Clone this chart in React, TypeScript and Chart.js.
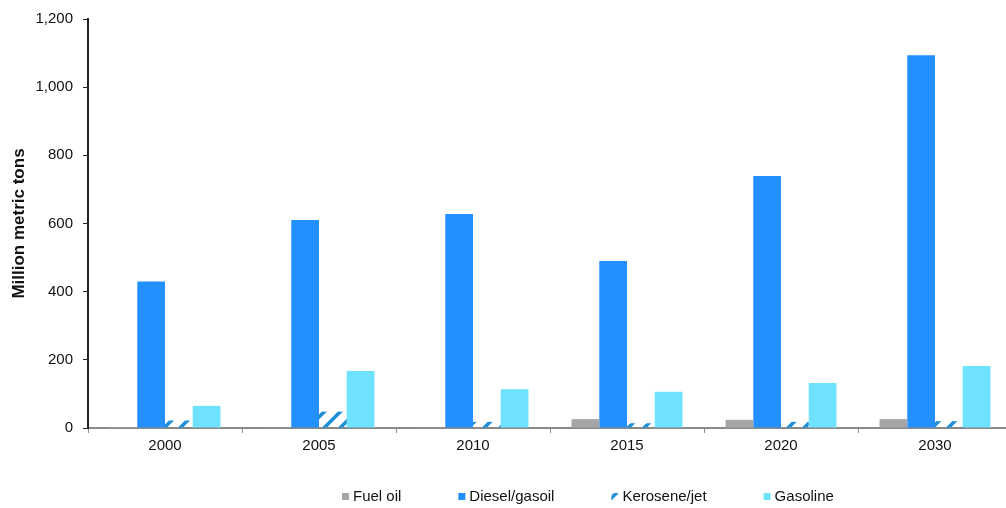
import React, { useEffect, useRef } from "react";
import { Chart, registerables } from "chart.js";

Chart.register(...registerables);

// Refined product demand, million metric tons
const years = ["2000", "2005", "2010", "2015", "2020", "2030"];
const fuelOil = [3, 1, 2, 26, 24, 26];
const diesel = [430, 610, 628, 490, 739, 1094];
const kerosene = [22, 48, 18, 14, 18, 20];
const gasoline = [65, 167, 114, 106, 132, 182];
const yTicks = [0, 200, 400, 600, 800, 1000, 1200];

const FONT = '"Liberation Sans", Arial, Helvetica, sans-serif';

// Diagonal stripe fill used for the kerosene/jet bars
function stripePattern(color: string): CanvasPattern | string {
  const c = document.createElement("canvas");
  c.width = 16;
  c.height = 16;
  const g = c.getContext("2d");
  if (!g) return color;
  g.strokeStyle = color;
  g.lineWidth = 3.5;
  const seg = (x1: number, y1: number, x2: number, y2: number) => {
    g.beginPath();
    g.moveTo(x1, y1);
    g.lineTo(x2, y2);
    g.stroke();
  };
  seg(-4, 20, 20, -4);
  seg(-4, 4, 4, -4);
  seg(12, 20, 20, 12);
  const p = g.createPattern(c, "repeat");
  return p || color;
}

// Legend drawn as a single row under the axis
const bottomLegend = {
  id: "bottomLegend",
  afterDraw(chart: any) {
    const ctx = chart.ctx as CanvasRenderingContext2D;
    ctx.save();
    ctx.font = `15px ${FONT}`;
    ctx.textBaseline = "middle";
    ctx.textAlign = "left";
    let x = 342;
    const y = 497;
    chart.data.datasets.forEach((ds: any) => {
      const bg = ds.backgroundColor;
      ctx.save();
      if (typeof bg === "string") {
        ctx.fillStyle = bg;
        ctx.fillRect(x, y - 4, 7, 7);
      } else {
        // shift the stripe tile so one stroke crosses the swatch
        ctx.translate(x - 5.5, y - 9.5);
        ctx.fillStyle = bg;
        ctx.fillRect(5.5, 5.5, 7, 7);
      }
      ctx.restore();
      ctx.fillStyle = "#111";
      ctx.fillText(ds.label, x + 11, y);
      x += 11 + ctx.measureText(ds.label).width + 57;
    });
    ctx.restore();
  },
};

export default function App() {
  const ref = useRef<HTMLCanvasElement | null>(null);

  useEffect(() => {
    if (!ref.current) return;
    const chart = new Chart(ref.current, {
      type: "bar",
      data: {
        labels: years,
        datasets: [
          { label: "Fuel oil", data: fuelOil, backgroundColor: "#a6a6a6" },
          { label: "Diesel/gasoil", data: diesel, backgroundColor: "#2390ff" },
          { label: "Kerosene/jet", data: kerosene, backgroundColor: stripePattern("#1a8fd6") as any },
          { label: "Gasoline", data: gasoline, backgroundColor: "#6ee2ff" },
        ],
      },
      options: {
        responsive: false,
        animation: false,
        devicePixelRatio: 1,
        layout: { padding: { top: 19, right: 8, left: 0, bottom: 0 } },
        datasets: { bar: { categoryPercentage: 0.72, barPercentage: 1.0 } },
        plugins: {
          legend: { display: false },
          tooltip: { enabled: false },
        },
        scales: {
          x: {
            grid: {
              display: true,
              drawOnChartArea: false,
              drawTicks: true,
              tickLength: 5,
              color: "#8a8a8a",
              offset: true,
            },
            border: { display: true, color: "#8a8a8a", width: 2 },
            ticks: { color: "#111", font: { size: 15, family: FONT }, padding: 4 },
            afterFit: (s: any) => {
              s.height = 80;
            },
          },
          y: {
            min: 0,
            max: 1200,
            afterBuildTicks: (s: any) => {
              s.ticks = yTicks.map((v) => ({ value: v }));
            },
            ticks: {
              color: "#111",
              font: { size: 15, family: FONT },
              padding: 10,
              callback: (v: any) => Number(v).toLocaleString("en-US"),
            },
            grid: {
              display: true,
              drawOnChartArea: false,
              drawTicks: true,
              tickLength: 5,
              color: "#222",
            },
            border: { display: true, color: "#222", width: 2 },
            title: {
              display: true,
              text: "Million metric tons",
              color: "#111",
              font: { size: 17, weight: "bold", family: FONT },
              padding: { top: 9, bottom: 0 },
            },
            afterFit: (s: any) => {
              s.width = 88;
            },
          },
        },
      },
      plugins: [bottomLegend],
    });
    return () => chart.destroy();
  }, []);

  return (
    <div
      style={{
        position: "fixed",
        left: 0,
        top: 0,
        width: 1006,
        height: 508,
        overflow: "hidden",
        background: "#fff",
      }}
    >
      <canvas ref={ref} width={1020} height={508} style={{ display: "block" }} />
    </div>
  );
}
